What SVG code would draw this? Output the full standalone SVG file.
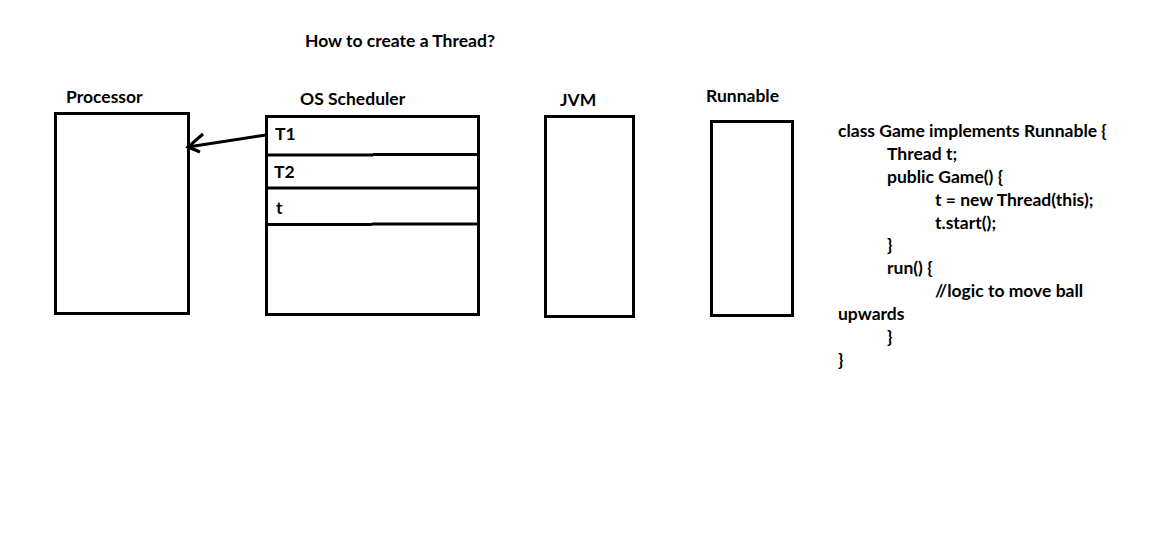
<svg xmlns="http://www.w3.org/2000/svg" width="1165" height="558" viewBox="0 0 1165 558">
<style>
.t{font-family:Lato,"Open Sans","Liberation Sans",sans-serif;font-weight:bold;font-size:17.5px;fill:#000}
.b{fill:none;stroke:#000;stroke-width:3}
.l{stroke:#000;stroke-width:3;fill:none}
</style>
<rect width="1165" height="558" fill="#fff"/>
<text class="t" x="305" y="47">How to create a Thread?</text>
<g id="processor">
<rect class="b" x="55.5" y="113.5" width="133" height="200"/>
<text class="t" x="66" y="103">Processor</text>
</g>
<g id="scheduler">
<rect class="b" x="266.5" y="116.5" width="212" height="198"/>
<path class="l" d="M266 155H373M373 154.5H480M266 188H480M266 224.5H372M372 224H478"/>
<text class="t" x="300" y="105">OS Scheduler</text>
<text class="t" x="275" y="140">T1</text>
<text class="t" x="274" y="178">T2</text>
<text class="t" x="276" y="214">t</text>
</g>
<g id="jvm">
<rect class="b" x="545.5" y="116.5" width="88" height="200"/>
<path class="l" d="M545 157H547"/>
<text class="t" x="560" y="106">JVM</text>
</g>
<g id="runnable">
<rect class="b" x="711.5" y="121.5" width="81" height="194"/>
<text class="t" x="706" y="102">Runnable</text>
</g>
<g id="connectors">
<path class="l" d="M266 135L188 147M203 134L188 147L200 152"/>
</g>
<g id="code">
<text class="t" x="838" y="137">class Game implements Runnable {</text>
<text class="t" x="887" y="160">Thread t;</text>
<text class="t" x="887" y="183">public Game() {</text>
<text class="t" x="935" y="206">t = new Thread(this);</text>
<text class="t" x="935" y="229">t.start();</text>
<text class="t" x="887" y="251">}</text>
<text class="t" x="887" y="274">run() {</text>
<text class="t" x="935" y="297">//logic to move ball</text>
<text class="t" x="838" y="320">upwards</text>
<text class="t" x="887" y="343">}</text>
<text class="t" x="838" y="366">}</text>
</g>
</svg>
